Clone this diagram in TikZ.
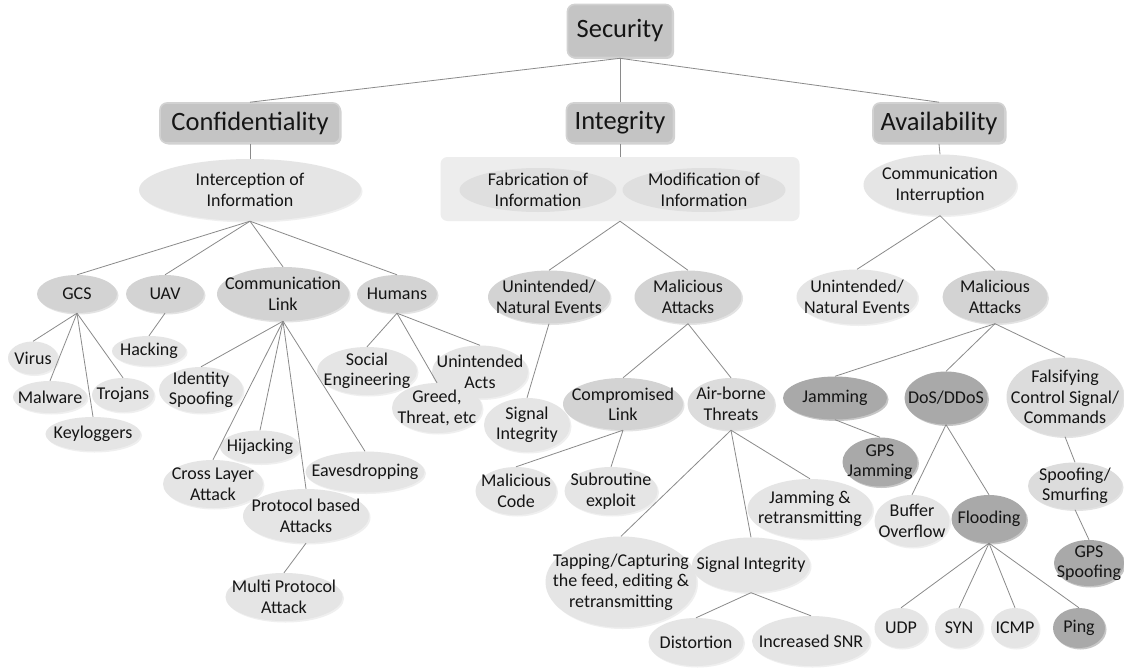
\documentclass[tikz,border=0pt]{standalone}
\usepackage{fontspec}
\setmainfont{Carlito}
\usepackage{xcolor}
\usepackage{tikz}
\usetikzlibrary{shapes,shadows,positioning}

\definecolor{inkblack}{HTML}{151515}
\definecolor{linkgray}{HTML}{8A8A8A}
\definecolor{hdrfill}{HTML}{C4C4C4}
\definecolor{hdredge}{HTML}{D2D2D2}
\definecolor{grpfill}{HTML}{EDEDED}
\definecolor{faintfill}{HTML}{DFDFDF}
\definecolor{litefill}{HTML}{E5E5E5}
\definecolor{liteshade}{HTML}{EFEFEF}
\definecolor{softfill}{HTML}{DCDCDC}
\definecolor{midfill}{HTML}{D3D3D3}
\definecolor{midshade}{HTML}{E3E3E3}
\definecolor{darkfill}{HTML}{A9A9A9}
\definecolor{darkshade}{HTML}{C6C6C6}

\newcommand{\bodyfont}{\fontsize{18}{20.5}\selectfont}
\newcommand{\hdrfont}{\fontsize{26.5}{30}\selectfont}

\tikzset{
  link/.style={draw=linkgray, line width=0.8pt},
  txt/.style={align=center, inner sep=0pt, text=inkblack, font=\bodyfont},
  hdr/.style={rectangle, rounded corners=7pt, fill=hdrfill, draw=hdredge,
    line width=1.6pt, inner sep=0pt, text=inkblack, font=\hdrfont,
    drop shadow={shadow xshift=1.5pt, shadow yshift=-1.5pt, fill=hdredge, opacity=1}},
  bub/.style n args={3}{ellipse, inner sep=0pt, minimum width=#1pt,
    minimum height=#2pt, label={[txt]center:{#3}}},
  lite/.style={fill=litefill,
    drop shadow={shadow xshift=1.5pt, shadow yshift=-1.5pt, fill=liteshade, opacity=1}},
  soft/.style={fill=softfill,
    drop shadow={shadow xshift=1.5pt, shadow yshift=-1.5pt, fill=midshade, opacity=1}},
  mid/.style={fill=midfill,
    drop shadow={shadow xshift=1.5pt, shadow yshift=-1.5pt, fill=midshade, opacity=1}},
  dark/.style={fill=darkfill,
    drop shadow={shadow xshift=1.5pt, shadow yshift=-1.5pt, fill=darkshade, opacity=1}},
}

\begin{document}
\begin{tikzpicture}[x=1pt, y=-1pt]
\fill[white] (0,0) rectangle (1124,669);
\useasboundingbox (0,0) rectangle (1124,669);

% top levels
\node[hdr, minimum width=105pt, minimum height=53pt] (sec) at (620,31) {Security};
\node[hdr, minimum width=180pt, minimum height=40pt] (conf) at (250,123) {Confidentiality};
\node[hdr, minimum width=107pt, minimum height=40pt] (integ) at (620,123) {Integrity};
\node[hdr, minimum width=132pt, minimum height=40pt] (avail) at (939,123) {Availability};

\node[lite, bub={222}{62}{Interception of\\Information}] (intercept) at (250,190) {};
\node[rectangle, rounded corners=7pt, fill=grpfill, minimum width=359pt, minimum height=64pt] (grp) at (620,189) {};
\node[ellipse, fill=faintfill, bub={157}{44}{Fabrication of\\Information}] (fabric) at (538,190) {};
\node[ellipse, fill=faintfill, bub={163}{44}{Modification of\\Information}] (modif) at (704,190) {};
\node[lite, bub={153}{61}{Communication\\Interruption}] (interrupt) at (940,185) {};

% confidentiality
\node[mid, bub={80}{38}{GCS}] (gcs) at (77,294) {};
\node[mid, bub={78}{38}{UAV}] (uav) at (165,294) {};
\node[mid, bub={132}{54}{Communication\\Link}] (commlink) at (283,294) {};
\node[mid, bub={80}{38}{Humans}] (humans) at (397,294) {};
\node[lite, bub={50}{33}{Virus}] (virus) at (33,358) {};
\node[lite, bub={74}{32}{Malware}] (malware) at (50,397) {};
\node[lite, bub={62}{34}{Trojans}] (trojans) at (123,395) {};
\node[lite, bub={95}{34}{Keyloggers}] (keylog) at (93,434) {};
\node[lite, bub={74}{30}{Hacking}] (hacking) at (149,351) {};
\node[lite, bub={84}{46}{Identity\\Spoofing}] (idspoof) at (201,390) {};
\node[lite, bub={80}{33}{Hijacking}] (hijack) at (260,447) {};
\node[lite, bub={100}{48}{Cross Layer\\Attack}] (crosslayer) at (213,484) {};
\node[lite, bub={119}{41}{Eavesdropping}] (eaves) at (365,472) {};
\node[lite, bub={126}{54}{Protocol based\\Attacks}] (protocol) at (306,516) {};
\node[lite, bub={117}{48}{Multi Protocol\\Attack}] (multiproto) at (284,597) {};
\node[lite, bub={100}{48}{Social\\Engineering}] (social) at (367,371) {};
\node[lite, bub={96}{53}{Unintended\\Acts}] (unacts) at (480,372) {};
\node[lite, bub={90}{50}{Greed,\\Threat, etc}] (greed) at (437,408) {};

% integrity
\node[mid, bub={122}{53}{Unintended/\\Natural Events}] (unnat1) at (549,297) {};
\node[mid, bub={107}{53}{Malicious\\Attacks}] (malatk1) at (688,297) {};
\node[lite, bub={86}{54}{Signal\\Integrity}] (sigint1) at (527,425) {};
\node[mid, bub={120}{52}{Compromised\\Link}] (complink) at (623,404) {};
\node[soft, bub={87}{52}{Air-borne\\Threats}] (airborne) at (731,404) {};
\node[lite, bub={81}{48}{Malicious\\Code}] (malcode) at (516,491) {};
\node[lite, bub={93}{48}{Subroutine\\exploit}] (subrout) at (611,491) {};
\node[lite, bub={125}{60}{Jamming \&\\retransmitting}] (jamretx) at (810,509) {};
\node[lite, bub={151}{91}{Tapping/Capturing\\the feed, editing \&\\retransmitting}] (tapping) at (621,582) {};
\node[lite, bub={118}{55}{Signal Integrity}] (sigint2) at (751,565) {};
\node[lite, bub={95}{48}{Distortion}] (distort) at (696,642) {};
\node[lite, bub={118}{50}{Increased SNR}] (incsnr) at (811,641) {};

% availability
\node[lite, bub={121}{55}{Unintended/\\Natural Events}] (unnat2) at (857,297) {};
\node[mid, bub={105}{53}{Malicious\\Attacks}] (malatk2) at (995,297) {};
\node[dark, bub={104}{43}{Jamming}] (jamming) at (835,398) {};
\node[dark, bub={83}{53}{DoS/DDoS}] (dos) at (946,398) {};
\node[soft, bub={117}{79}{Falsifying\\Control Signal/\\Commands}] (falsify) at (1065,397) {};
\node[dark, bub={75}{49}{GPS\\Jamming}] (gpsjam) at (880,462) {};
\node[lite, bub={75}{52}{Buffer\\Overflow}] (bufover) at (912,521) {};
\node[dark, bub={75}{48}{Flooding}] (flooding) at (989,519) {};
\node[soft, bub={94}{47}{Spoofing/\\Smurfing}] (spoofsmurf) at (1075,486) {};
\node[dark, bub={70}{46}{GPS\\Spoofing}] (gpsspoof) at (1089,563) {};
\node[lite, bub={53}{40}{UDP}] (udp) at (901,628) {};
\node[lite, bub={48}{40}{SYN}] (syn) at (959,628) {};
\node[lite, bub={48}{40}{ICMP}] (icmp) at (1015,628) {};
\node[dark, bub={52}{40}{Ping}] (ping) at (1079,628) {};

% connectors
\draw[link] (sec.south) -- (conf.north);
\draw[link] (sec.south) -- (integ.north);
\draw[link] (sec.south) -- (avail.north);
\draw[link] (conf.south) -- (intercept.north);
\draw[link] (integ.south) -- (grp.north);
\draw[link] (avail.south) -- (interrupt.north);

\foreach \kid in {gcs, uav, commlink, humans}
  \draw[link] (intercept.south) -- (\kid.north);
\foreach \kid in {virus, malware, keylog, trojans}
  \draw[link] (gcs.south) -- (\kid.north);
\draw[link] (uav.south) -- (hacking.north);
\foreach \kid in {idspoof, hijack, crosslayer, protocol, eaves}
  \draw[link] (commlink.south) -- (\kid.north);
\draw[link] (protocol.south) -- (multiproto.north);
\foreach \kid in {social, greed, unacts}
  \draw[link] (humans.south) -- (\kid.north);

\draw[link] (grp.south) -- (unnat1.north);
\draw[link] (grp.south) -- (malatk1.north);
\draw[link] (unnat1.south) -- (sigint1.north);
\draw[link] (malatk1.south) -- (complink.north);
\draw[link] (malatk1.south) -- (airborne.north);
\draw[link] (complink.south) -- (malcode.north);
\draw[link] (complink.south) -- (subrout.north);
\foreach \kid in {tapping, sigint2, jamretx}
  \draw[link] (airborne.south) -- (\kid.north);
\draw[link] (sigint2.south) -- (distort.north);
\draw[link] (sigint2.south) -- (incsnr.north);

\draw[link] (interrupt.south) -- (unnat2.north);
\draw[link] (interrupt.south) -- (malatk2.north);
\foreach \kid in {jamming, dos, falsify}
  \draw[link] (malatk2.south) -- (\kid.north);
\draw[link] (jamming.south) -- (gpsjam.north);
\draw[link] (dos.south) -- (bufover.north);
\draw[link] (dos.south) -- (flooding.north);
\foreach \kid in {udp, syn, icmp, ping}
  \draw[link] (flooding.south) -- (\kid.north);
\draw[link] (falsify.south) -- (spoofsmurf.north);
\draw[link] (spoofsmurf.south) -- (gpsspoof.north);
\end{tikzpicture}
\end{document}
